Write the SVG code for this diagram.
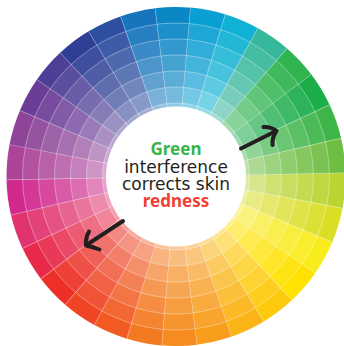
<svg xmlns="http://www.w3.org/2000/svg" xmlns:xlink="http://www.w3.org/1999/xlink" width="344" height="346" viewBox="0 0 344 346">
<defs>
<path id="w" d="M0 0 L-17.72 -168.57 A169.5 169.5 0 0 1 18.60 -168.48 Z"/>
<style>
.ov{fill:#fff}
.rl{fill:none;stroke:#fff;stroke-width:0.7;stroke-opacity:0.5}
.reg{font-family:"DejaVu Sans",sans-serif;font-size:17px;fill:#231f20}
.bld{font-family:"Noto Sans","DejaVu Sans",sans-serif;font-size:17px;font-weight:700}
.arr{fill:none;stroke:#231f20;stroke-width:4;stroke-linecap:round;stroke-linejoin:round}
</style>
</defs>
<g id="wheel">
<g transform="translate(176 176.5)">
<use xlink:href="#w" href="#w" fill="#0a9fd3" transform="rotate(10.8)"/>
<use xlink:href="#w" href="#w" fill="#10b1d4" transform="rotate(22.8)"/>
<use xlink:href="#w" href="#w" fill="#36b89c" transform="rotate(34.8)"/>
<use xlink:href="#w" href="#w" fill="#30b44f" transform="rotate(46.8)"/>
<use xlink:href="#w" href="#w" fill="#1cad4b" transform="rotate(58.8)"/>
<use xlink:href="#w" href="#w" fill="#3db549" transform="rotate(70.8)"/>
<use xlink:href="#w" href="#w" fill="#6fbe44" transform="rotate(82.8)"/>
<use xlink:href="#w" href="#w" fill="#bad531" transform="rotate(94.8)"/>
<use xlink:href="#w" href="#w" fill="#dadf26" transform="rotate(106.8)"/>
<use xlink:href="#w" href="#w" fill="#f9ec1c" transform="rotate(118.8)"/>
<use xlink:href="#w" href="#w" fill="#ffe200" transform="rotate(130.8)"/>
<use xlink:href="#w" href="#w" fill="#fdca0e" transform="rotate(142.8)"/>
<use xlink:href="#w" href="#w" fill="#fbb416" transform="rotate(154.8)"/>
<use xlink:href="#w" href="#w" fill="#f99d1c" transform="rotate(166.8)"/>
<use xlink:href="#w" href="#w" fill="#f68b1f" transform="rotate(178.8)"/>
<use xlink:href="#w" href="#w" fill="#f47a21" transform="rotate(190.8)"/>
<use xlink:href="#w" href="#w" fill="#f15b23" transform="rotate(202.8)"/>
<use xlink:href="#w" href="#w" fill="#ef4524" transform="rotate(214.8)"/>
<use xlink:href="#w" href="#w" fill="#ed3027" transform="rotate(226.8)"/>
<use xlink:href="#w" href="#w" fill="#e8294a" transform="rotate(238.8)"/>
<use xlink:href="#w" href="#w" fill="#e1336f" transform="rotate(250.8)"/>
<use xlink:href="#w" href="#w" fill="#d0288c" transform="rotate(262.8)"/>
<use xlink:href="#w" href="#w" fill="#ac4499" transform="rotate(274.8)"/>
<use xlink:href="#w" href="#w" fill="#8e4598" transform="rotate(286.8)"/>
<use xlink:href="#w" href="#w" fill="#6c3d97" transform="rotate(298.8)"/>
<use xlink:href="#w" href="#w" fill="#4d3f96" transform="rotate(310.8)"/>
<use xlink:href="#w" href="#w" fill="#2f3f96" transform="rotate(322.8)"/>
<use xlink:href="#w" href="#w" fill="#2d4fa0" transform="rotate(334.8)"/>
<use xlink:href="#w" href="#w" fill="#1675bd" transform="rotate(346.8)"/>
<use xlink:href="#w" href="#w" fill="#0b87c5" transform="rotate(358.8)"/>
</g>
<circle class="ov" cx="176" cy="176.5" r="153.5" fill-opacity="0.08"/>
<circle class="ov" cx="176" cy="176.5" r="137.5" fill-opacity="0.087"/>
<circle class="ov" cx="176" cy="176.5" r="121.5" fill-opacity="0.095"/>
<circle class="ov" cx="176" cy="176.5" r="105.5" fill-opacity="0.118"/>
<circle class="ov" cx="176" cy="176.5" r="89.5" fill-opacity="0.164"/>
<circle class="ov" cx="176" cy="176.5" r="73.5" fill-opacity="0.214"/>
<circle cx="176" cy="176.5" r="120" fill="none" stroke="#fff" stroke-opacity="0.5" stroke-width="100" stroke-dasharray="0.7 24.433" transform="rotate(-1.37 176 176.5)"/>
<circle class="rl" cx="176" cy="176.5" r="153.5"/>
<circle class="rl" cx="176" cy="176.5" r="137.5"/>
<circle class="rl" cx="176" cy="176.5" r="121.5"/>
<circle class="rl" cx="176" cy="176.5" r="105.5"/>
<circle class="rl" cx="176" cy="176.5" r="89.5"/>
<circle class="rl" cx="176" cy="176.5" r="73.5"/>
<circle cx="176" cy="176.5" r="70" fill="#fff"/>
</g>
<g id="label" text-anchor="middle">
<text class="bld" x="176" y="155" fill="#39b54a">Green</text>
<text class="reg" x="176" y="172.7">interference</text>
<text class="reg" x="176" y="190.3">corrects skin</text>
<text class="bld" x="176" y="207" fill="#ef4136">redness</text>
</g>
<g id="connectors">
<path class="arr" d="M241 148.5 L276 131"/>
<path class="arr" d="M263.5 127 Q271 126.5 276.5 131 Q272 137 272.5 145"/>
<path class="arr" d="M123 221 L86.5 245"/>
<path class="arr" d="M89 231.5 Q85 239 86 245.5 Q93 247 99.5 249.5"/>
</g>
</svg>
